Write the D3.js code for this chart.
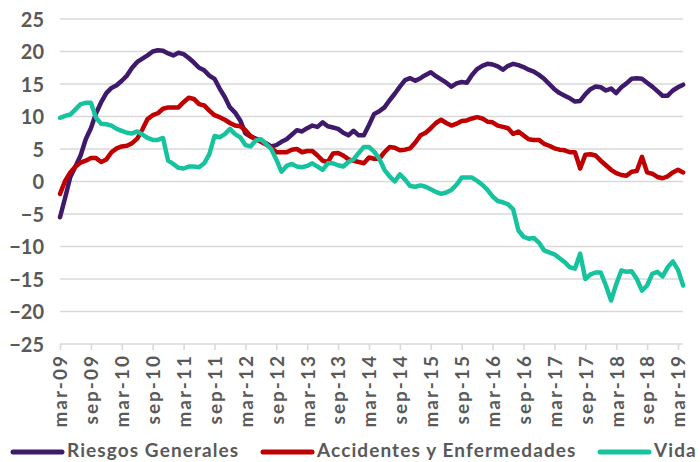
<!DOCTYPE html>
<html>
<head>
<meta charset="utf-8">
<script src="https://cdn.jsdelivr.net/npm/d3@7"></script>
<style>
  body { margin: 0; background: #fff; }
  text { font-family: Lato, "Open Sans", sans-serif; font-weight: 700; fill: #595959; }
</style>
</head>
<body>
<div class="chart"></div>
<script>
// monthly, mar-09 .. apr-19
var riesgosGenerales = [
  -5.5, -2.5, 0.7, 2.3, 4, 6.5, 8.2, 10.5, 12.2, 13.6,
  14.4, 14.8, 15.5, 16.3, 17.5, 18.4, 18.9, 19.4, 20, 20.2,
  20.1, 19.7, 19.4, 19.8, 19.6, 19.0, 18.3, 17.5, 17.1, 16.3,
  15.8, 14.3, 13.0, 11.4, 10.6, 9.4, 7.4, 6.9, 6.6, 6.3,
  5.9, 5.4, 5.6, 6.1, 6.5, 7.2, 7.9, 7.7, 8.2, 8.6,
  8.4, 9.1, 8.5, 8.3, 8.1, 7.5, 7.1, 7.8, 7.1, 7.1,
  8.7, 10.4, 10.8, 11.4, 12.5, 13.5, 14.6, 15.6, 15.9, 15.5,
  15.9, 16.4, 16.8, 16.2, 15.7, 15.2, 14.6, 15.1, 15.3, 15.2,
  16.4, 17.3, 17.8, 18.1, 18.0, 17.7, 17.2, 17.8, 18.1, 17.9,
  17.6, 17.2, 16.9, 16.4, 15.8, 15.0, 14.2, 13.6, 13.2, 12.8,
  12.3, 12.4, 13.4, 14.2, 14.6, 14.5, 14.0, 14.3, 13.6, 14.5,
  15.1, 15.8, 15.9, 15.8, 15.2, 14.6, 13.9, 13.2, 13.2, 14.0,
  14.5, 14.9
];
var accidentesEnfermedades = [
  -1.9, 0.1, 1.4, 2.3, 2.9, 3.2, 3.6, 3.6, 3.0, 3.4,
  4.5, 5.1, 5.4, 5.5, 5.9, 6.6, 8.0, 9.6, 10.2, 10.5,
  11.2, 11.4, 11.4, 11.4, 12.2, 12.9, 12.7, 11.9, 11.7, 10.9,
  10.2, 9.9, 9.5, 9.0, 8.6, 8.5, 7.9, 7.0, 6.5, 6.1,
  5.7, 5.2, 4.5, 4.5, 4.5, 4.9, 5.0, 4.5, 4.7, 4.7,
  4.0, 3.2, 3.0, 4.3, 4.4, 4.0, 3.4, 3.2, 3.0, 2.8,
  3.7, 3.5, 3.5, 4.5, 5.3, 5.2, 4.8, 4.9, 5.1, 6.0,
  7.1, 7.5, 8.2, 9.0, 9.5, 9.0, 8.6, 8.9, 9.3, 9.4,
  9.7, 9.9, 9.7, 9.2, 9.1, 8.6, 8.4, 8.2, 7.3, 7.7,
  7.1, 6.5, 6.4, 6.4, 5.8, 5.5, 5.1, 4.9, 4.8, 4.5,
  4.5, 2.0, 4.1, 4.2, 4.0, 3.2, 2.5, 1.8, 1.3, 1.0,
  0.9, 1.5, 1.6, 3.8, 1.4, 1.2, 0.7, 0.5, 0.8, 1.4,
  1.8, 1.4
];
var vida = [
  9.8, 10.1, 10.3, 11.1, 11.9, 12.1, 12.1, 9.8, 8.9, 8.8,
  8.6, 8.1, 7.8, 7.5, 7.4, 7.7, 7.2, 6.7, 6.4, 6.4,
  6.7, 3.2, 2.7, 2.1, 2.0, 2.3, 2.3, 2.2, 2.8, 4.2,
  7.0, 6.8, 7.3, 8.1, 7.3, 6.8, 5.6, 5.4, 6.3, 6.5,
  5.8, 5.0, 3.4, 1.5, 2.4, 2.7, 2.3, 2.2, 2.4, 2.8,
  2.3, 1.8, 2.8, 2.8, 2.5, 2.3, 3.0, 3.4, 4.4, 5.3,
  5.3, 4.6, 3.5, 1.8, 0.8, 0.0, 1.1, 0.3, -0.7, -0.8,
  -0.6, -0.8, -1.2, -1.6, -1.9, -1.7, -1.3, -0.5, 0.6, 0.6,
  0.6, 0.1, -0.5, -1.3, -2.3, -3.0, -3.2, -3.5, -4.3, -7.5,
  -8.5, -8.8, -8.7, -9.4, -10.6, -10.9, -11.2, -11.8, -12.4, -13.2,
  -13.4, -11.1, -15.0, -14.3, -14.0, -14.0, -16.0, -18.3, -15.8, -13.7,
  -13.9, -13.8, -15.0, -16.8, -16.0, -14.2, -13.9, -14.6, -13.2, -12.3,
  -13.6, -16.0
];

var xTickLabels = ["mar-09", "sep-09", "mar-10", "sep-10", "mar-11", "sep-11", "mar-12",
  "sep-12", "mar-13", "sep-13", "mar-14", "sep-14", "mar-15", "sep-15", "mar-16",
  "sep-16", "mar-17", "sep-17", "mar-18", "sep-18", "mar-19"];
var yTicks = [-25, -20, -15, -10, -5, 0, 5, 10, 15, 20, 25];

var seriesNames = ["Riesgos Generales", "Accidentes y Enfermedades", "Vida"];
var seriesColors = ["#3f1a6b", "#c00000", "#17c39e"];
var seriesData = [riesgosGenerales, accidentesEnfermedades, vida];

var svgWidth = 700, svgHeight = 462;
var margin = { top: 19, right: 17, bottom: 118, left: 60 };

var svg = d3.select(".chart").append("svg")
  .attr("width", svgWidth)
  .attr("height", svgHeight);

var plotRight = svgWidth - margin.right;
var plotBottom = svgHeight - margin.bottom;

// x: month index, 6 months per tick
var xScale = d3.scaleLinear().domain([0, 120]).range([margin.left, 678]);
var yScale = d3.scaleLinear().domain([-25, 25]).range([plotBottom, margin.top]);

// gridlines
svg.append("g").selectAll("line")
  .data(yTicks)
  .enter().append("line")
  .attr("x1", margin.left).attr("x2", plotRight)
  .attr("y1", d => yScale(d)).attr("y2", d => yScale(d))
  .attr("stroke", "#d9d9d9")
  .attr("stroke-width", 1.6);

// y labels
var yAxis = d3.axisLeft(yScale).tickValues(yTicks).tickSize(0).tickPadding(0);
var yG = svg.append("g")
  .attr("transform", `translate(${margin.left - 16}, 0)`)
  .call(yAxis);
yG.select(".domain").remove();
yG.selectAll("text")
  .style("font-size", "20px")
  .attr("dy", "0.36em");

// x axis ticks + rotated labels
var xAxis = d3.axisBottom(xScale)
  .tickValues(d3.range(0, 121, 6))
  .tickFormat((d, i) => xTickLabels[i])
  .tickSize(6)
  .tickPadding(0);
var xG = svg.append("g")
  .attr("transform", `translate(0, ${plotBottom})`)
  .call(xAxis);
xG.select(".domain").remove();
xG.selectAll("line").attr("stroke", "#d9d9d9").attr("stroke-width", 1.6);
xG.selectAll("text")
  .style("font-size", "19px")
  .style("letter-spacing", "2px")
  .attr("text-anchor", "end")
  .attr("transform", "rotate(-90)")
  .attr("x", -10)
  .attr("y", 0)
  .attr("dy", "0.36em");

// lines
var line = d3.line()
  .x((d, i) => xScale(i))
  .y(d => yScale(d));

seriesData.forEach(function(s, k) {
  svg.append("path")
    .datum(s)
    .attr("d", line)
    .attr("fill", "none")
    .attr("stroke", seriesColors[k])
    .attr("stroke-width", 4.5)
    .attr("stroke-linejoin", "round")
    .attr("stroke-linecap", "round");
});

// legend
var legendX = [13, 263, 600];
var legendY = 452;
var legend = svg.append("g");
seriesNames.forEach(function(name, k) {
  legend.append("line")
    .attr("x1", legendX[k]).attr("x2", legendX[k] + 49)
    .attr("y1", legendY).attr("y2", legendY)
    .attr("stroke", seriesColors[k])
    .attr("stroke-width", 5)
    .attr("stroke-linecap", "round");
  legend.append("text")
    .attr("x", legendX[k] + 54)
    .attr("y", 457)
    .style("font-size", "19px")
    .style("letter-spacing", "1.1px")
    .text(name);
});
</script>
</body>
</html>
